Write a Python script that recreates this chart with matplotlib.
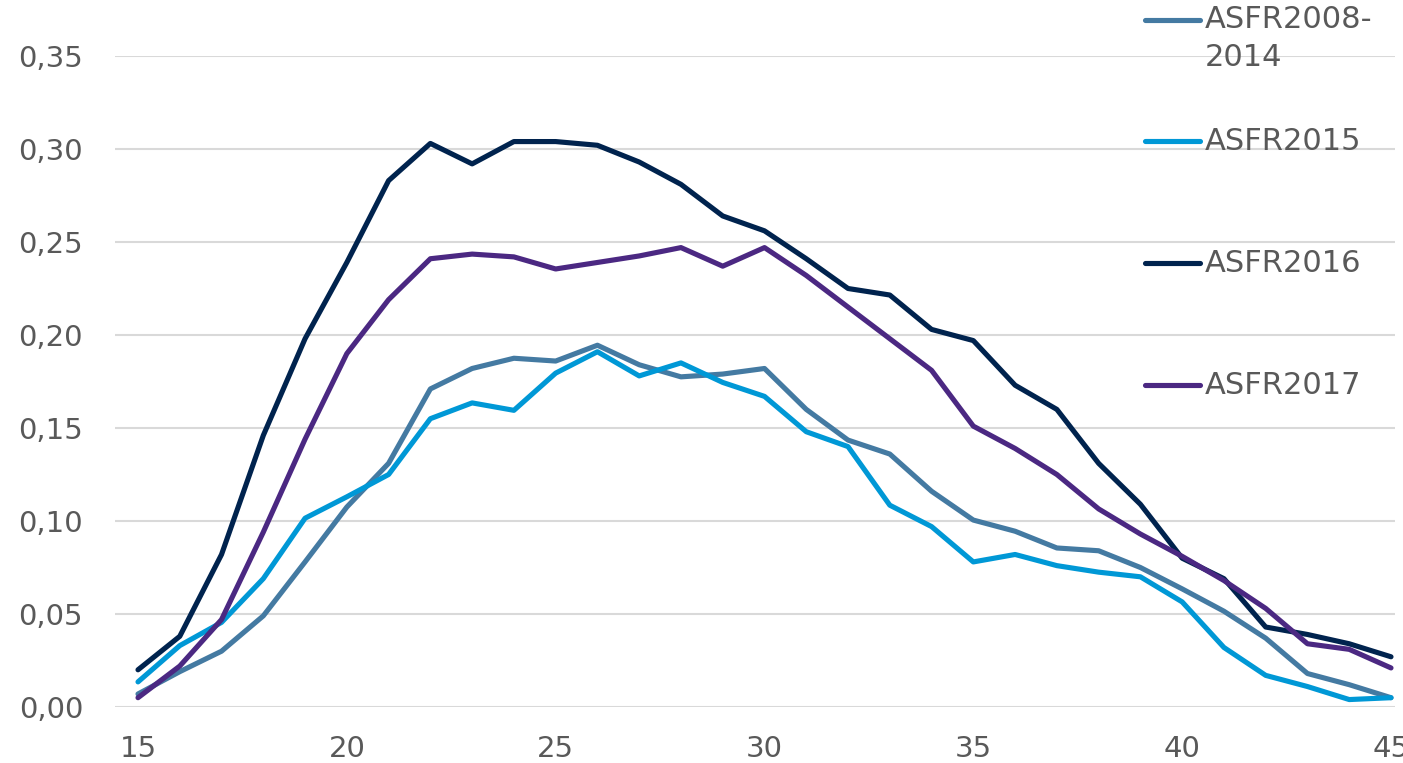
import numpy as np
import matplotlib
matplotlib.use("Agg")
import matplotlib.pyplot as plt
from matplotlib.lines import Line2D
from matplotlib.ticker import FuncFormatter

# ages 15..45
ages = np.arange(15, 46)

asfr_0814 = [0.007, 0.019, 0.030, 0.049, 0.078, 0.1075, 0.131, 0.171, 0.182, 0.1875,
             0.186, 0.1945, 0.184, 0.1775, 0.179, 0.182, 0.160, 0.1435, 0.136, 0.116,
             0.1005, 0.0945, 0.0855, 0.084, 0.075, 0.0635, 0.0515, 0.037, 0.018, 0.012, 0.005]
asfr_2015 = [0.0135, 0.033, 0.0455, 0.069, 0.1015, 0.113, 0.125, 0.155, 0.1635, 0.1595,
             0.1795, 0.191, 0.178, 0.185, 0.1745, 0.167, 0.148, 0.140, 0.1085, 0.097,
             0.078, 0.082, 0.076, 0.0725, 0.070, 0.0565, 0.032, 0.017, 0.011, 0.004, 0.005]
asfr_2016 = [0.020, 0.038, 0.082, 0.146, 0.198, 0.239, 0.283, 0.303, 0.292, 0.304,
             0.304, 0.302, 0.293, 0.281, 0.264, 0.256, 0.241, 0.225, 0.2215, 0.203,
             0.197, 0.173, 0.160, 0.131, 0.109, 0.080, 0.069, 0.043, 0.039, 0.034, 0.027]
asfr_2017 = [0.005, 0.022, 0.047, 0.094, 0.144, 0.190, 0.219, 0.241, 0.2435, 0.242,
             0.2355, 0.239, 0.2425, 0.247, 0.237, 0.247, 0.232, 0.215, 0.198, 0.181,
             0.151, 0.139, 0.125, 0.1065, 0.093, 0.081, 0.068, 0.053, 0.034, 0.031, 0.021]

labels = ["ASFR2008-\n2014", "ASFR2015", "ASFR2016", "ASFR2017"]
colors = ["#447aa2", "#0098d6", "#00234e", "#4b2882"]
series = [asfr_0814, asfr_2015, asfr_2016, asfr_2017]

txt = "#595959"
fs = 21

fig = plt.figure(figsize=(14.03, 7.63), dpi=100)
ax = fig.add_axes([115/1403, 1 - 707/763, 1280/1403, 651/763])

for y, c in zip(series, colors):
    ax.plot(ages, y, color=c, lw=3.7, solid_capstyle="round", solid_joinstyle="round",
            clip_on=False, zorder=3)

ax.set_xlim(15 - 23/41.77, 45 + 4/41.77)
ax.set_ylim(0, 0.35)
ax.set_xticks([15, 20, 25, 30, 35, 40, 45])
ax.set_yticks(np.arange(0, 0.351, 0.05))
ax.yaxis.set_major_formatter(FuncFormatter(lambda v, p: f"{v:.2f}".replace(".", ",")))
ax.grid(axis="y", color="#d9d9d9", lw=1.5)
ax.set_axisbelow(True)
for s in ax.spines.values():
    s.set_visible(False)
ax.tick_params(length=0, labelsize=fs, labelcolor=txt)
ax.tick_params(axis="y", pad=23)
ax.tick_params(axis="x", pad=20)

# legend drawn by hand on the right
leg_y = [1.0553, 0.8694, 0.682, 0.4946]
for lab, c, yy in zip(labels, colors, leg_y):
    ax.add_line(Line2D([0.8047, 0.8477], [yy, yy], transform=ax.transAxes, color=c,
                       lw=3.7, solid_capstyle="round", clip_on=False))
    parts = lab.split("\n")
    ax.text(0.8516, yy, parts[0], transform=ax.transAxes, fontsize=22, color=txt,
            va="center", ha="left")
    if len(parts) > 1:
        ax.text(0.8516, yy - 38/651, parts[1], transform=ax.transAxes, fontsize=22,
                color=txt, va="center", ha="left")

fig.savefig("out.png", dpi=100)
